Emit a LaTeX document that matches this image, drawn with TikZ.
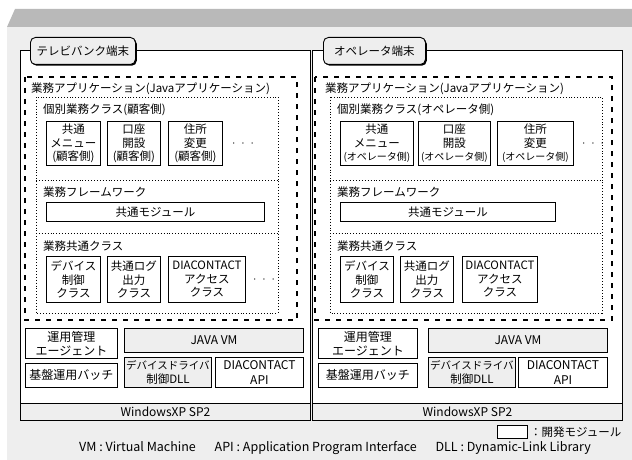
\documentclass[tikz,border=0pt]{standalone}
\usepackage{fontspec}
\setmainfont{Noto Sans CJK JP}
\usetikzlibrary{positioning,shadows}

\colorlet{stipple}{gray!13}
\colorlet{slab}{gray!55}

\begin{document}
\begin{tikzpicture}[
  x=1pt, y=-1pt,
  font=\fontsize{11.5}{13.5}\selectfont,
  % Node styles
  terminal/.style={rectangle, draw=black, line width=1.1pt, fill=white, anchor=north west, inner sep=0pt},
  tab/.style={rectangle, rounded corners=5pt, draw=black, line width=0.9pt, fill=stipple, anchor=north west, inner sep=2pt,
    drop shadow={shadow xshift=1.3pt, shadow yshift=-1.3pt, fill=black, opacity=1}},
  appbox/.style={draw=black, line width=1.6pt, dash pattern=on 5pt off 6pt},
  classbox/.style={draw=black, line width=0.9pt, dotted},
  module/.style={rectangle, draw=black, line width=0.9pt, fill=white, align=center, anchor=north west, inner sep=0pt},
  vendor/.style={module, fill=stipple},
  base/.style={font=\fontsize{12}{14.5}\selectfont},
  caption/.style={anchor=west, inner sep=0pt},
  more/.style={inner sep=0pt}
]

  % Background
  \useasboundingbox (0,0) rectangle (632,460);
  \fill[stipple] (7,27) rectangle (632,460);
  \fill[slab] (15,9) -- (632,9) -- (632,27) -- (7,27) -- cycle;

  % Terminal 1: TV bank
  \node[terminal, minimum width=290pt, minimum height=370pt] (lterm) at (20,50) {};
  \node[tab, minimum width=105pt, minimum height=27pt] (ltab) at (30,37) {テレビバンク端末};
  \draw[appbox] (25,77) rectangle (297,320);
  \node[caption] (lapp) at (31,89) {業務アプリケーション(Javaアプリケーション)};
  \draw[classbox] (36,97) rectangle (278,313);
  \draw[classbox] (36,180) -- (278,180);
  \draw[classbox] (36,233) -- (278,233);

  \node[caption] (lind) at (43,110) {個別業務クラス(顧客側)};
  \node[module, minimum width=54pt, minimum height=44pt] (lmenu) at (46,121) {共通\\メニュー\\(顧客側)};
  \node[module, minimum width=53pt, minimum height=44pt] (lacct) at (107,121) {口座\\開設\\(顧客側)};
  \node[module, minimum width=54pt, minimum height=44pt] (laddr) at (168,121) {住所\\変更\\(顧客側)};
  \node[more, right=9pt of laddr] (lmore1) {$\cdot\;\cdot\;\cdot$};

  \node[caption] (lfw) at (43,192) {業務フレームワーク};
  \node[module, minimum width=218pt, minimum height=19pt] (lcommon) at (46,202) {共通モジュール};

  \node[caption] (lcom) at (43,246) {業務共通クラス};
  \node[module, minimum width=54pt, minimum height=46pt] (ldev) at (46,256) {デバイス\\制御\\クラス};
  \node[module, minimum width=53pt, minimum height=46pt] (llog) at (107,256) {共通ログ\\出力\\クラス};
  \node[module, minimum width=77pt, minimum height=46pt] (ldia) at (168,256) {DIACONTACT\\アクセス\\クラス};
  \node[more, right=7pt of ldia] (lmore2) {$\cdot\;\cdot\;\cdot$};

  \node[module, base, minimum width=92pt, minimum height=30pt] (lagent) at (25,328) {運用管理\\エージェント};
  \node[vendor, base, minimum width=179pt, minimum height=24pt] (ljvm) at (124,328) {JAVA VM};
  \node[module, base, minimum width=92pt, minimum height=24pt] (lbatch) at (25,363) {基盤運用バッチ};
  \node[vendor, minimum width=87pt, minimum height=30pt] (ldll) at (124,357) {{\fontsize{10.5}{13}\selectfont デバイスドライバ}\\制御DLL};
  \node[module, base, minimum width=88pt, minimum height=30pt] (lapi) at (215,357) {DIACONTACT\\API};
  \node[vendor, base, minimum width=290pt, minimum height=17pt] (lwin) at (20,403) {WindowsXP SP2};

  % Terminal 2: operator
  \node[terminal, minimum width=310pt, minimum height=370pt] (rterm) at (312,50) {};
  \node[tab, minimum width=102pt, minimum height=27pt] (rtab) at (323,37) {オペレータ端末};
  \draw[appbox] (315,77) rectangle (612,320);
  \node[caption] (rapp) at (325,89) {業務アプリケーション(Javaアプリケーション)};
  \draw[classbox] (330,97) rectangle (602,313);
  \draw[classbox] (330,180) -- (602,180);
  \draw[classbox] (330,233) -- (602,233);

  \node[caption] (rind) at (337,110) {個別業務クラス(オペレータ側)};
  \node[module, minimum width=73pt, minimum height=44pt] (rmenu) at (340,121) {共通\\メニュー\\{\fontsize{10}{12}\selectfont(オペレータ側)}};
  \node[module, minimum width=72pt, minimum height=44pt] (racct) at (418,121) {口座\\開設\\{\fontsize{10}{12}\selectfont(オペレータ側)}};
  \node[module, minimum width=76pt, minimum height=44pt] (raddr) at (497,121) {住所\\変更\\{\fontsize{10}{12}\selectfont(オペレータ側)}};
  \node[more, right=8pt of raddr] (rmore1) {$\cdot\;\cdot\;\cdot$};

  \node[caption] (rfw) at (337,192) {業務フレームワーク};
  \node[module, minimum width=215pt, minimum height=19pt] (rcommon) at (340,202) {共通モジュール};

  \node[caption] (rcom) at (337,246) {業務共通クラス};
  \node[module, minimum width=53pt, minimum height=46pt] (rdev) at (340,256) {デバイス\\制御\\クラス};
  \node[module, minimum width=53pt, minimum height=46pt] (rlog) at (400,256) {共通ログ\\出力\\クラス};
  \node[module, minimum width=75pt, minimum height=46pt] (rdia) at (462,256) {DIACONTACT\\アクセス\\クラス};

  \node[module, base, minimum width=99pt, minimum height=30pt] (ragent) at (318,328) {運用管理\\エージェント};
  \node[vendor, base, minimum width=179pt, minimum height=24pt] (rjvm) at (428,328) {JAVA VM};
  \node[module, base, minimum width=99pt, minimum height=24pt] (rbatch) at (318,363) {基盤運用バッチ};
  \node[vendor, minimum width=87pt, minimum height=30pt] (rdll) at (428,357) {{\fontsize{10.5}{13}\selectfont デバイスドライバ}\\制御DLL};
  \node[module, base, minimum width=89pt, minimum height=30pt] (rapi) at (518,357) {DIACONTACT\\API};
  \node[vendor, base, minimum width=310pt, minimum height=17pt] (rwin) at (312,403) {WindowsXP SP2};

  % Legend and notes
  \node[module, minimum width=30pt, minimum height=13pt] (legbox) at (497,425) {};
  \node[more, right=2pt of legbox] (legtext) {：開発モジュール};
  \node[more, font=\fontsize{12.5}{14}\selectfont] (note) at (335,448) {VM : Virtual Machine\hspace{1.5em}API : Application Program Interface\hspace{1.5em}DLL : Dynamic-Link Library};

\end{tikzpicture}
\end{document}
